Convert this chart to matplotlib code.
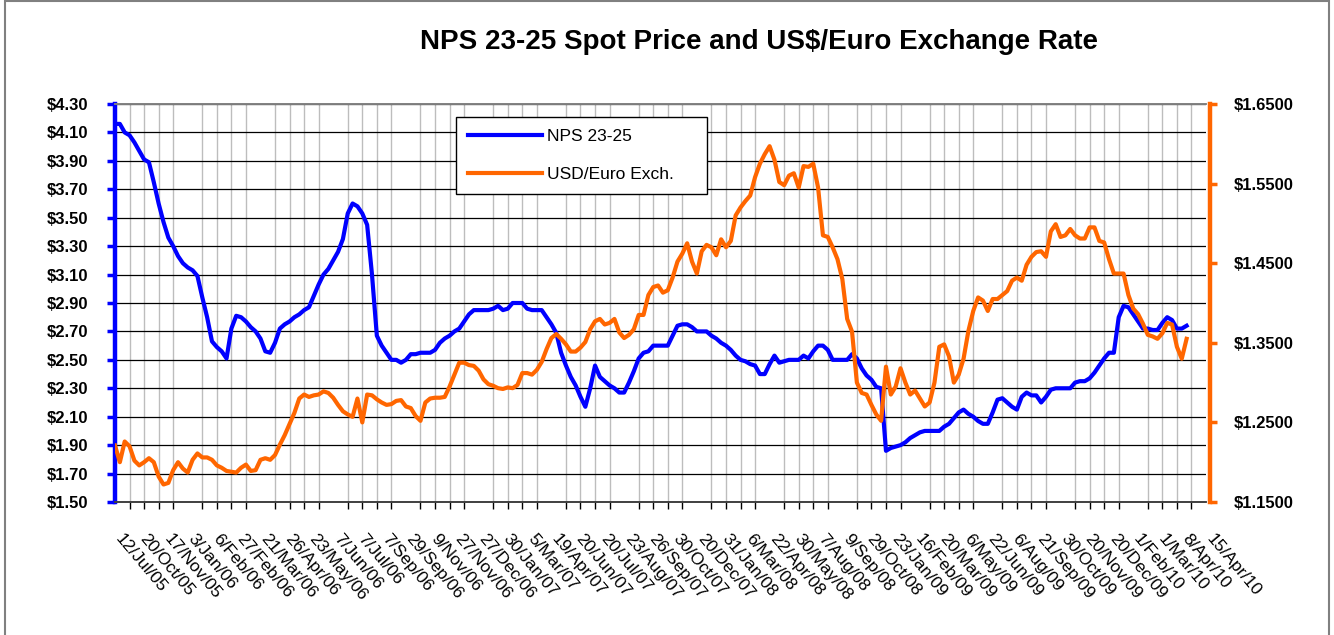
import matplotlib
matplotlib.use("Agg")
import matplotlib.pyplot as plt
from matplotlib.ticker import FixedLocator
from matplotlib.patches import Rectangle
from matplotlib.legend_handler import HandlerLine2D
from matplotlib.lines import Line2D
import matplotlib.transforms as mtransforms
import numpy as np

plt.rcParams['font.family'] = ['Liberation Sans', 'DejaVu Sans']

title = "NPS 23-25 Spot Price and US$/Euro Exchange Rate"
series_names = ["NPS 23-25", "USD/Euro Exch."]

date_labels = [
    "12/Jul/05", "20/Oct/05", "17/Nov/05", "3/Jan/06", "6/Feb/06", "27/Feb/06",
    "21/Mar/06", "26/Apr/06", "23/May/06", "7/Jun/06", "7/Jul/06", "7/Sep/06",
    "29/Sep/06", "9/Nov/06", "27/Nov/06", "27/Dec/06", "30/Jan/07", "5/Mar/07",
    "19/Apr/07", "20/Jun/07", "20/Jul/07", "23/Aug/07", "26/Sep/07", "30/Oct/07",
    "20/Dec/07", "31/Jan/08", "6/Mar/08", "22/Apr/08", "30/May/08", "7/Aug/08",
    "9/Sep/08", "29/Oct/08", "23/Jan/09", "16/Feb/09", "20/Mar/09", "6/May/09",
    "22/Jun/09", "6/Aug/09", "21/Sep/09", "30/Oct/09", "20/Nov/09", "20/Dec/09",
    "1/Feb/10", "1/Mar/10", "8/Apr/10", "15/Apr/10",
]

nps = [
    4.16, 4.16, 4.10, 4.08, 4.03, 3.97, 3.91, 3.89, 3.75, 3.60,
    3.47, 3.36, 3.30, 3.23, 3.18, 3.15, 3.13, 3.09, 2.94, 2.80,
    2.63, 2.59, 2.56, 2.51, 2.72, 2.81, 2.80, 2.77, 2.73, 2.70,
    2.65, 2.56, 2.55, 2.62, 2.72, 2.75, 2.77, 2.80, 2.82, 2.85,
    2.87, 2.95, 3.03, 3.10, 3.14, 3.20, 3.26, 3.35, 3.53, 3.60,
    3.58, 3.53, 3.45, 3.10, 2.67, 2.60, 2.55, 2.50, 2.50, 2.48,
    2.50, 2.54, 2.54, 2.55, 2.55, 2.55, 2.57, 2.62, 2.65, 2.67,
    2.70, 2.72, 2.77, 2.82, 2.85, 2.85, 2.85, 2.85, 2.86, 2.88,
    2.85, 2.86, 2.90, 2.90, 2.90, 2.86, 2.85, 2.85, 2.85, 2.80,
    2.75, 2.69, 2.55, 2.46, 2.38, 2.32, 2.24, 2.17, 2.30, 2.46,
    2.38, 2.35, 2.32, 2.30, 2.27, 2.27, 2.34, 2.42, 2.51, 2.55,
    2.56, 2.60, 2.60, 2.60, 2.60, 2.67, 2.74, 2.75, 2.75, 2.73,
    2.70, 2.70, 2.70, 2.67, 2.65, 2.62, 2.60, 2.57, 2.53, 2.50,
    2.49, 2.47, 2.46, 2.40, 2.40, 2.47, 2.53, 2.48, 2.49, 2.50,
    2.50, 2.50, 2.53, 2.51, 2.56, 2.60, 2.60, 2.57, 2.50, 2.50,
    2.50, 2.50, 2.54, 2.51, 2.44, 2.39, 2.36, 2.31, 2.30, 1.86,
    1.88, 1.89, 1.90, 1.92, 1.95, 1.97, 1.99, 2.00, 2.00, 2.00,
    2.00, 2.03, 2.05, 2.09, 2.13, 2.15, 2.12, 2.10, 2.07, 2.05,
    2.05, 2.13, 2.22, 2.23, 2.20, 2.17, 2.15, 2.24, 2.27, 2.25,
    2.25, 2.20, 2.24, 2.29, 2.30, 2.30, 2.30, 2.30, 2.34, 2.35,
    2.35, 2.37, 2.41, 2.46, 2.51, 2.55, 2.55, 2.80, 2.88, 2.87,
    2.82, 2.77, 2.72, 2.72, 2.71, 2.71, 2.76, 2.80, 2.78, 2.72,
    2.72, 2.74,
]

usd_euro = [
    1.221, 1.200, 1.226, 1.220, 1.202, 1.196, 1.200, 1.205, 1.200, 1.182,
    1.172, 1.174, 1.190, 1.200, 1.192, 1.187, 1.203, 1.211, 1.206, 1.206,
    1.203, 1.196, 1.193, 1.189, 1.188, 1.187, 1.193, 1.197, 1.189, 1.190,
    1.203, 1.205, 1.203, 1.209, 1.222, 1.234, 1.248, 1.262, 1.280, 1.285,
    1.282, 1.284, 1.285, 1.289, 1.287, 1.281, 1.272, 1.264, 1.260, 1.257,
    1.280, 1.250, 1.285, 1.284, 1.279, 1.275, 1.272, 1.273, 1.277, 1.278,
    1.270, 1.268, 1.258, 1.252, 1.275, 1.280, 1.281, 1.281, 1.282, 1.295,
    1.310, 1.325, 1.325, 1.322, 1.321, 1.315, 1.304, 1.298, 1.296, 1.293,
    1.292, 1.294, 1.293, 1.297, 1.312, 1.312, 1.310, 1.316, 1.326, 1.342,
    1.356, 1.361, 1.355, 1.348, 1.339, 1.339, 1.344, 1.351, 1.367, 1.377,
    1.380, 1.373, 1.375, 1.380, 1.363, 1.356, 1.360, 1.367, 1.385, 1.385,
    1.410, 1.420, 1.422, 1.413, 1.416, 1.432, 1.452, 1.462, 1.475, 1.452,
    1.437, 1.465, 1.473, 1.470, 1.460, 1.480, 1.470, 1.478, 1.510, 1.520,
    1.528, 1.535, 1.558, 1.575, 1.587, 1.597, 1.580, 1.552, 1.548, 1.560,
    1.563, 1.545, 1.572, 1.571, 1.575, 1.545, 1.485, 1.483, 1.470, 1.455,
    1.430, 1.380, 1.364, 1.300, 1.287, 1.285, 1.272, 1.260, 1.252, 1.320,
    1.285, 1.295, 1.318, 1.300, 1.285, 1.290, 1.280, 1.270, 1.275, 1.300,
    1.345, 1.348, 1.333, 1.300, 1.310, 1.330, 1.365, 1.390, 1.407, 1.403,
    1.390, 1.405, 1.405, 1.410, 1.415, 1.428, 1.432, 1.428, 1.448, 1.458,
    1.464, 1.465, 1.458, 1.490, 1.499, 1.483, 1.485, 1.493, 1.485, 1.481,
    1.481, 1.495, 1.495, 1.478, 1.476, 1.455, 1.437, 1.437, 1.437, 1.410,
    1.393, 1.386, 1.374, 1.360, 1.358, 1.355, 1.362, 1.375, 1.373, 1.345,
    1.330, 1.355,
]

left_ticks = [1.50, 1.70, 1.90, 2.10, 2.30, 2.50, 2.70, 2.90, 3.10, 3.30, 3.50, 3.70, 3.90, 4.10, 4.30]
right_ticks = [1.15, 1.25, 1.35, 1.45, 1.55, 1.65]

n_categories = 226
label_every = 5
tick_every = 3

BLUE = "#0000FF"
ORANGE = "#FF6600"

W, H = 1334, 635
fig = plt.figure(figsize=(W / 100, H / 100), dpi=100)
fig.patch.set_facecolor("white")

L, R, T, B = 115, 1206, 104, 502
ax = fig.add_axes([L / W, 1 - B / H, (R - L) / W, (B - T) / H])
ax2 = ax.twinx()

# spines first (set_position resets ticks)
for a in (ax, ax2):
    a.spines["top"].set_color("#808080")
    a.spines["top"].set_linewidth(1.2)
    a.spines["bottom"].set_color("#404040")
    a.spines["bottom"].set_linewidth(1.2)
ax.spines["left"].set_color(BLUE)
ax.spines["left"].set_linewidth(3.2)
ax.spines["right"].set_visible(False)
ax2.spines["left"].set_visible(False)
ax2.spines["right"].set_color(ORANGE)
ax2.spines["right"].set_linewidth(3.2)
ax2.spines["right"].set_position(("outward", 3))

x_nps = np.arange(len(nps))
x_usd = np.arange(len(usd_euro))

l1, = ax.plot(x_nps, nps, color=BLUE, lw=3.0, solid_joinstyle="round", zorder=3)
l2, = ax2.plot(x_usd, usd_euro, color=ORANGE, lw=3.0, solid_joinstyle="round", zorder=3)

ax.set_xlim(0, n_categories - 1)

# x axis: labels every 5 categories, tick marks / gridlines every 3
label_pos = np.arange(0, n_categories, label_every)
tick_pos = np.arange(0, n_categories, tick_every)
ax.xaxis.set_major_locator(FixedLocator(label_pos))
ax.set_xticklabels(date_labels[:len(label_pos)], rotation=-50, ha="left", va="top",
                   rotation_mode="anchor", fontsize=12.5)
ax.xaxis.set_minor_locator(FixedLocator(tick_pos))
ax.tick_params(axis="x", which="major", length=0, pad=21)
ax.tick_params(axis="x", which="minor", length=5, width=1, color="black", direction="out")
ax.grid(axis="x", which="minor", color="#BDBDBD", lw=1.0, zorder=0)
offset = mtransforms.ScaledTranslation(9 / 100, 0, fig.dpi_scale_trans)
for lab in ax.get_xticklabels():
    lab.set_transform(lab.get_transform() + offset)

# left axis
ax.set_yticks(left_ticks, labels=[f"${v:.2f}" for v in left_ticks])
ax.set_ylim(left_ticks[0], left_ticks[-1])
ax.tick_params(axis="y", which="major", length=6, width=2.5, color=BLUE, direction="out",
               pad=13, labelsize=12)
for tk in ax.yaxis.get_major_ticks():
    tk.label1.set_fontweight("bold")
ax.grid(axis="y", which="major", color="black", lw=0.9, zorder=0)

# right axis
ax2.set_yticks(right_ticks, labels=[f"${v:.4f}" for v in right_ticks])
ax2.set_ylim(right_ticks[0], right_ticks[-1])
ax2.tick_params(axis="y", which="major", length=5, width=2.5, color=ORANGE, direction="out",
                pad=12, labelsize=12)
for tk in ax2.yaxis.get_major_ticks():
    tk.label2.set_fontweight("bold")


class ShiftedLine(HandlerLine2D):
    """Legend line sample drawn only in the right part of the handle box."""
    def create_artists(self, legend, orig_handle, xdescent, ydescent, width, height,
                       fontsize, trans):
        artists = super().create_artists(legend, orig_handle, xdescent, ydescent,
                                         width, height, fontsize, trans)
        for art in artists:
            if isinstance(art, Line2D) and len(art.get_xdata()) == 2:
                art.set_xdata([-xdescent + 0.37 * width, -xdescent + width])
        return artists


lx0 = (456 - L) / (R - L)
lw_ = (707 - 456) / (R - L)
ly1 = (B - 117) / (B - T)
leg = ax2.legend([l1, l2], series_names, loc="upper left",
                 bbox_to_anchor=(lx0, ly1 - 0.3, lw_, 0.3), mode="expand",
                 borderaxespad=0, frameon=True, fancybox=False, fontsize=12.5,
                 handlelength=4.25, handletextpad=0.3, borderpad=0.7, labelspacing=1.3,
                 handler_map={Line2D: ShiftedLine()})
leg.get_frame().set_edgecolor("black")
leg.get_frame().set_linewidth(1.0)
leg.get_frame().set_facecolor("white")
leg.get_frame().set_alpha(1)

fig.text(759 / W, 1 - 42 / H, title, ha="center", va="center", fontsize=20, fontweight="bold")

# outer chart border
fig.patches.append(Rectangle((5 / W, -0.02), (1329 - 5) / W, 1 - 1 / H + 0.02,
                             transform=fig.transFigure, fill=False, edgecolor="#808080",
                             lw=1.5, clip_on=False))

fig.savefig("out.png", dpi=100, facecolor="white")
